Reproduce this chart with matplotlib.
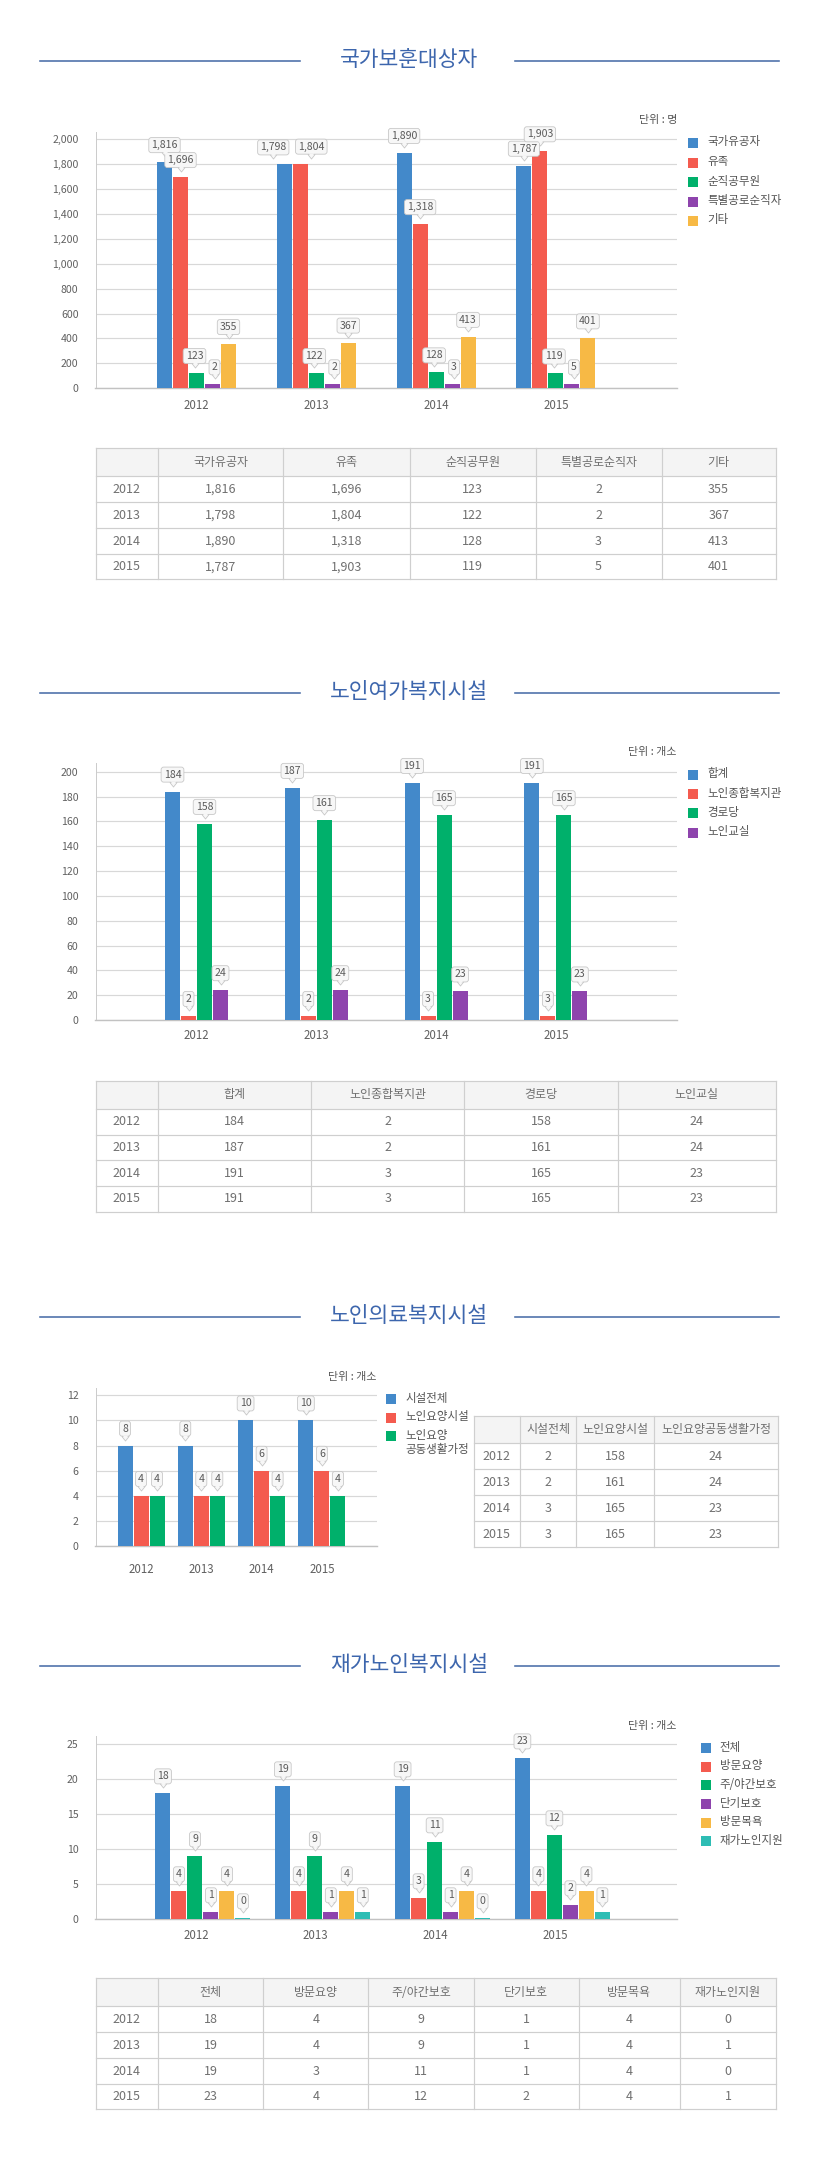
"""Four welfare statistics panels (2012-2015): grouped bar charts with value callouts,
each followed by the same numbers as a small table."""

import matplotlib

matplotlib.use("Agg")

import matplotlib.pyplot as plt
import numpy as np
from matplotlib.patches import Rectangle
from matplotlib.path import Path
from matplotlib.transforms import offset_copy

plt.rcParams["font.family"] = ["Noto Sans CJK KR", "DejaVu Sans"]

WIDTH, HEIGHT, DPI = 818, 2166, 100
PT = 72 / DPI  # points per pixel

YEARS = ["2012", "2013", "2014", "2015"]

# 국가보훈대상자
PATRIOT_SERIES = ["국가유공자", "유족", "순직공무원", "특별공로순직자", "기타"]
PATRIOT_MERIT = [1816, 1798, 1890, 1787]
PATRIOT_FAMILY = [1696, 1804, 1318, 1903]
PATRIOT_OFFICIAL = [123, 122, 128, 119]
PATRIOT_SPECIAL = [2, 2, 3, 5]
PATRIOT_OTHER = [355, 367, 413, 401]

# 노인여가복지시설
LEISURE_SERIES = ["합계", "노인종합복지관", "경로당", "노인교실"]
LEISURE_TOTAL = [184, 187, 191, 191]
LEISURE_CENTRE = [2, 2, 3, 3]
LEISURE_HALL = [158, 161, 165, 165]
LEISURE_CLASS = [24, 24, 23, 23]

# 노인의료복지시설
MEDICAL_SERIES = ["시설전체", "노인요양시설", "노인요양\n공동생활가정"]
MEDICAL_TOTAL = [8, 8, 10, 10]
MEDICAL_CARE = [4, 4, 6, 6]
MEDICAL_GROUP = [4, 4, 4, 4]
MEDICAL_TABLE_HEADER = ["시설전체", "노인요양시설", "노인요양공동생활가정"]
MEDICAL_TABLE_TOTAL = [2, 2, 3, 3]
MEDICAL_TABLE_CARE = [158, 161, 165, 165]
MEDICAL_TABLE_GROUP = [24, 24, 23, 23]

# 재가노인복지시설
HOME_SERIES = ["전체", "방문요양", "주/야간보호", "단기보호", "방문목욕", "재가노인지원"]
HOME_TOTAL = [18, 19, 19, 23]
HOME_VISIT = [4, 4, 3, 4]
HOME_DAY = [9, 9, 11, 12]
HOME_SHORT = [1, 1, 1, 2]
HOME_BATH = [4, 4, 4, 4]
HOME_SUPPORT = [0, 1, 0, 1]

BLUE = "#4389ca"
RED = "#f45b4f"
GREEN = "#00b06b"
PURPLE = "#8e44ad"
YELLOW = "#f7b945"
TEAL = "#2ebdb4"

TITLE_COLOUR = "#3d66ad"
TEXT_COLOUR = "#555555"
TABLE_TEXT = "#707070"
GRID_COLOUR = "#d8d8d8"
BORDER_COLOUR = "#cfcfcf"
CALLOUT_FACE = "#f7f7f7"
CALLOUT_EDGE = "#c6c6c6"

BAR_WIDTH_PX = 15
BAR_STEP_PX = 16
LABEL_RISE_PX = 17
LABEL_FONT_PX = 10.5
POINTER = Path([(-4, 0), (4, 0), (0, -5), (-4, 0)])


def px_axes(fig, left, top, right, bottom):
    return fig.add_axes(
        [left / WIDTH, 1 - bottom / HEIGHT, (right - left) / WIDTH, (bottom - top) / HEIGHT]
    )


def draw_title(overlay, y, text):
    overlay.plot([40, 300], [y, y], color="#4a6ea8", linewidth=1.6 * PT)
    overlay.plot([515, 779], [y, y], color="#4a6ea8", linewidth=1.6 * PT)
    overlay.text(409, y - 1, text, ha="center", va="center", fontsize=21.5 * PT,
                 color=TITLE_COLOUR, fontweight="medium")


def draw_legend(overlay, x, y0, step, labels, colours):
    y = y0
    for label, colour in zip(labels, colours):
        overlay.add_patch(Rectangle((x, y - 5), 10, 10, facecolor=colour, edgecolor="none"))
        overlay.text(x + 19, y - 7.5, label, ha="left", va="top", fontsize=11.5 * PT,
                     color=TEXT_COLOUR, linespacing=1.1)
        y += step * (label.count("\n") + 1)


def label_width_px(value):
    return len(f"{value:,}") * 6.0 + 7


def callout(fig, ax, x, top, value, nudge_px):
    under = offset_copy(ax.transData, fig=fig, x=nudge_px, y=LABEL_RISE_PX - 7, units="dots")
    ax.plot([x], [top], marker=POINTER, markersize=6.5, linestyle="",
            markerfacecolor=CALLOUT_FACE, markeredgecolor=CALLOUT_EDGE,
            markeredgewidth=0.8 * PT, transform=under, zorder=5, clip_on=False)
    ax.annotate(
        f"{value:,}",
        xy=(x, top),
        xytext=(nudge_px * PT, LABEL_RISE_PX * PT),
        textcoords="offset points",
        ha="center",
        va="center",
        fontsize=LABEL_FONT_PX * PT,
        color="#5a5a5a",
        zorder=6,
        annotation_clip=False,
        bbox=dict(boxstyle="round,pad=0.24,rounding_size=0.25", facecolor=CALLOUT_FACE,
                  edgecolor=CALLOUT_EDGE, linewidth=0.8 * PT),
    )
    cover = offset_copy(ax.transData, fig=fig, x=nudge_px, y=LABEL_RISE_PX - 6, units="dots")
    ax.plot([x], [top], marker=POINTER, markersize=5.2, linestyle="",
            markerfacecolor=CALLOUT_FACE, markeredgecolor="none",
            transform=cover, zorder=7, clip_on=False)


def spread_labels(heights_px, values):
    """Push neighbouring callouts in one group apart sideways when their boxes would collide."""
    nudges = [0.0] * len(values)
    for k in range(len(values) - 1):
        dy = abs(heights_px[k] - heights_px[k + 1])
        half = (label_width_px(values[k]) + label_width_px(values[k + 1])) / 2
        if dy < 13 and BAR_STEP_PX < half:
            shift = (half - BAR_STEP_PX + 1) / 2
            nudges[k] -= shift
            nudges[k + 1] += shift
    return nudges


def bar_chart(fig, box, series, colours, ymax, yticks, centre_px, step_px,
              offset_px=0.0, min_px=4.0, xpad_px=11.0):
    left, top, right, bottom = box
    ax = px_axes(fig, left, top, right, bottom)
    ax.patch.set_visible(False)
    ax.set_xlim((left - centre_px) / step_px, (right - centre_px) / step_px)
    ax.set_ylim(0, ymax)
    px_per_value = (bottom - top) / ymax

    groups = np.arange(len(YEARS))
    count = len(series)
    positions, heights = [], []
    for k, (values, colour) in enumerate(zip(series, colours)):
        shift = (offset_px + (k - (count - 1) / 2) * BAR_STEP_PX) / step_px
        shown = np.maximum(np.asarray(values, dtype=float), min_px / px_per_value)
        ax.bar(groups + shift, shown, width=BAR_WIDTH_PX / step_px, color=colour,
               linewidth=0, zorder=3)
        positions.append(groups + shift)
        heights.append(shown)

    for g in groups:
        group_values = [series[k][g] for k in range(count)]
        group_px = [heights[k][g] * px_per_value for k in range(count)]
        nudges = spread_labels(group_px, group_values)
        for k in range(count):
            callout(fig, ax, positions[k][g], heights[k][g], group_values[k], nudges[k])

    ax.set_yticks(yticks)
    ax.set_yticklabels([f"{t:,}" for t in yticks])
    ax.set_xticks(groups)
    ax.set_xticklabels(YEARS)
    ax.tick_params(axis="y", length=0, pad=17 * PT, labelsize=10.5 * PT, labelcolor="#606060")
    ax.tick_params(axis="x", length=0, pad=xpad_px * PT, labelsize=11.5 * PT,
                   labelcolor="#606060")
    ax.grid(axis="y", color=GRID_COLOUR, linewidth=1.2 * PT, zorder=0)
    ax.set_axisbelow(True)
    for side in ("top", "right"):
        ax.spines[side].set_visible(False)
    ax.spines["left"].set_color("#cccccc")
    ax.spines["left"].set_linewidth(1 * PT)
    ax.spines["bottom"].set_color("#c2c2c2")
    ax.spines["bottom"].set_linewidth(1.4 * PT)
    return ax


def draw_table(overlay, col_edges, row_edges, header, columns):
    left, right = col_edges[0], col_edges[-1]
    overlay.add_patch(Rectangle((left, row_edges[0]), right - left, row_edges[1] - row_edges[0],
                                facecolor="#f4f4f4", edgecolor="none"))
    for y in row_edges:
        overlay.plot([left, right], [y, y], color=BORDER_COLOUR, linewidth=1.2 * PT)
    for x in col_edges:
        overlay.plot([x, x], [row_edges[0], row_edges[-1]], color=BORDER_COLOUR,
                     linewidth=1.2 * PT)

    centres = [(a + b) / 2 for a, b in zip(col_edges[:-1], col_edges[1:])]
    header_y = (row_edges[0] + row_edges[1]) / 2
    for cx, label in zip(centres[1:], header):
        overlay.text(cx, header_y, label, ha="center", va="center", fontsize=12 * PT,
                     color=TABLE_TEXT)
    for r, year in enumerate(YEARS):
        cy = (row_edges[r + 1] + row_edges[r + 2]) / 2
        overlay.text(centres[0], cy, year, ha="center", va="center", fontsize=12.5 * PT,
                     color=TABLE_TEXT)
        for cx, column in zip(centres[1:], columns):
            overlay.text(cx, cy, f"{column[r]:,}", ha="center", va="center",
                         fontsize=12.5 * PT, color=TABLE_TEXT)


def main():
    fig = plt.figure(figsize=(WIDTH / DPI, HEIGHT / DPI), dpi=DPI)
    fig.patch.set_facecolor("white")
    overlay = fig.add_axes([0, 0, 1, 1])
    overlay.set_xlim(0, WIDTH)
    overlay.set_ylim(HEIGHT, 0)
    overlay.axis("off")

    unit_style = dict(ha="right", va="center", fontsize=11 * PT, color=TEXT_COLOUR)

    # 국가보훈대상자
    patriot = [PATRIOT_MERIT, PATRIOT_FAMILY, PATRIOT_OFFICIAL, PATRIOT_SPECIAL, PATRIOT_OTHER]
    patriot_colours = [BLUE, RED, GREEN, PURPLE, YELLOW]
    draw_title(overlay, 61, "국가보훈대상자")
    overlay.text(677, 120, "단위 : 명", **unit_style)
    bar_chart(fig, (95.5, 132, 677, 388.3), patriot, patriot_colours, 2058,
              list(range(0, 2001, 200)), 196.5, 119.8, min_px=4, xpad_px=11)
    draw_legend(overlay, 688, 143, 19.5, PATRIOT_SERIES, patriot_colours)
    draw_table(overlay, [95.5, 158, 283, 409.5, 535.7, 661.5, 775.7],
               [448.3, 476.3, 502.3, 528.3, 554.3, 579.3], PATRIOT_SERIES, patriot)

    # 노인여가복지시설
    leisure = [LEISURE_TOTAL, LEISURE_CENTRE, LEISURE_HALL, LEISURE_CLASS]
    leisure_colours = [BLUE, RED, GREEN, PURPLE]
    draw_title(overlay, 693.3, "노인여가복지시설")
    overlay.text(677, 752.3, "단위 : 개소", **unit_style)
    bar_chart(fig, (95.5, 763.3, 677, 1020), leisure, leisure_colours, 206.8,
              list(range(0, 201, 20)), 196.5, 119.8, min_px=4, xpad_px=9.5)
    draw_legend(overlay, 688, 775, 19.2, LEISURE_SERIES, leisure_colours)
    draw_table(overlay, [95.5, 158, 311.4, 464.3, 617.6, 775.7],
               [1080.7, 1108.7, 1134.7, 1160.3, 1186.3, 1211.7], LEISURE_SERIES, leisure)

    # 노인의료복지시설
    medical = [MEDICAL_TOTAL, MEDICAL_CARE, MEDICAL_GROUP]
    medical_colours = [BLUE, RED, GREEN]
    draw_title(overlay, 1317.3, "노인의료복지시설")
    overlay.text(377, 1376.7, "단위 : 개소", **unit_style)
    bar_chart(fig, (95.5, 1387.7, 376.6, 1546.3), medical, medical_colours, 12.6,
              list(range(0, 13, 2)), 141, 60.3, min_px=4, xpad_px=16.5)
    draw_legend(overlay, 386, 1399.3, 18.6, MEDICAL_SERIES, medical_colours)
    draw_table(overlay, [473.7, 519.6, 576.4, 653.6, 778.3],
               [1415.7, 1443.3, 1469.3, 1495.3, 1521.3, 1546.7], MEDICAL_TABLE_HEADER,
               [MEDICAL_TABLE_TOTAL, MEDICAL_TABLE_CARE, MEDICAL_TABLE_GROUP])

    # 재가노인복지시설
    home = [HOME_TOTAL, HOME_VISIT, HOME_DAY, HOME_SHORT, HOME_BATH, HOME_SUPPORT]
    home_colours = [BLUE, RED, GREEN, PURPLE, YELLOW, TEAL]
    draw_title(overlay, 1666, "재가노인복지시설")
    overlay.text(677, 1725.7, "단위 : 개소", **unit_style)
    bar_chart(fig, (95.5, 1736, 677, 1919.3), home, home_colours, 26.2,
              list(range(0, 26, 5)), 196, 119.8, offset_px=7, min_px=1, xpad_px=10)
    draw_legend(overlay, 700.6, 1748.3, 18.6, HOME_SERIES, home_colours)
    draw_table(overlay, [95.5, 158, 263.4, 368.3, 473.7, 578.5, 680.2, 775.7],
               [1978.3, 2006.3, 2032.3, 2058.3, 2084.3, 2109.3], HOME_SERIES, home)

    fig.savefig("out.png", dpi=DPI, facecolor="white")
    plt.close(fig)


if __name__ == "__main__":
    main()
